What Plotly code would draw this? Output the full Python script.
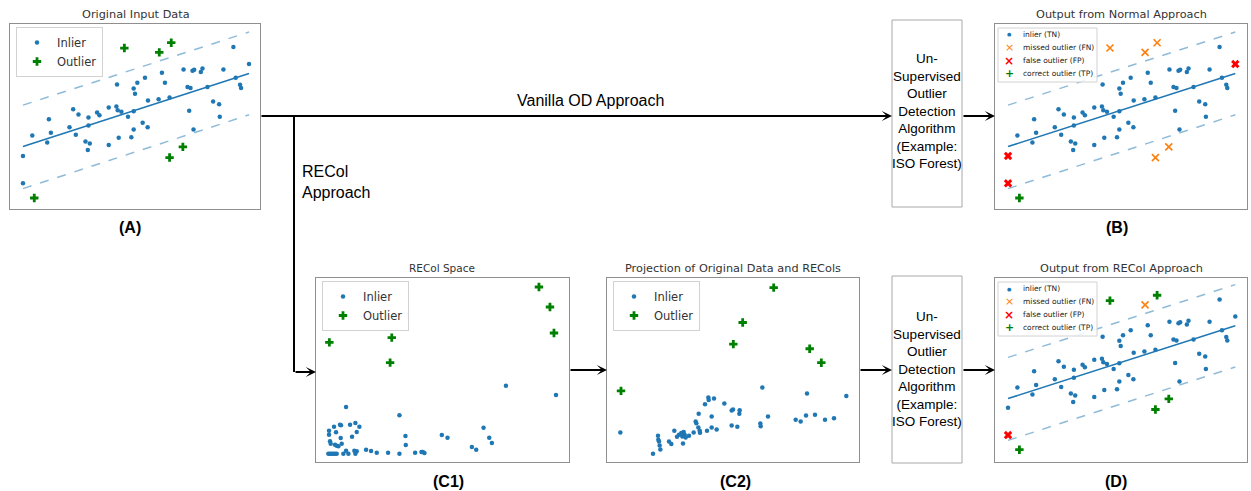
import plotly.graph_objects as go

W, H = 1251, 491


def px(x):
    return x / W


def py(y):
    return 1 - y / H


# ---------------- data: original input (panels A, B, D) ----------------
inlier_x = [6.7, 6.7, 9.5, 14.0, 14.5, 15.1, 20.7, 21.8, 22.6, 23.4, 25.5, 26.2, 26.4, 26.4, 26.8,
            29.0, 29.7, 32.5, 32.5, 34.8, 35.0, 35.2, 35.5, 36.3, 38.3, 39.3, 40.0, 40.0, 40.0, 40.4,
            41.1, 42.7, 43.4, 44.2, 44.3, 47.5, 48.5, 49.4, 50.8, 55.0, 56.2, 56.7, 57.1, 57.7, 58.0,
            58.2, 60.2, 60.7, 62.2, 63.9, 65.7, 65.9, 67.0, 70.0, 70.7, 72.0, 72.3, 74.7]
inlier_y = [16.3, 8.1, 22.4, 20.3, 27.3, 23.2, 24.9, 30.3, 22.6, 28.7, 20.6, 18.1, 27.8, 25.4, 20.0,
            29.3, 28.5, 30.8, 19.6, 31.1, 37.7, 30.0, 21.7, 29.5, 28.0, 21.9, 36.5, 29.7, 24.2, 34.9,
            38.2, 26.2, 39.7, 24.9, 32.9, 33.3, 41.2, 38.2, 33.8, 42.2, 36.9, 29.8, 36.6, 41.8, 24.2,
            42.1, 41.4, 42.5, 36.9, 32.6, 31.8, 28.0, 42.2, 48.9, 39.7, 37.6, 36.6, 43.8]
outlier_x = [37.2, 47.7, 51.3, 54.8, 50.8, 10.1]
outlier_y = [48.6, 47.3, 50.2, 19.0, 15.8, 3.7]

fit_x = [6.7, 74.7]
fit_y = [19.1, 41.0]
band_hi_y = [31.5, 53.4]
band_lo_y = [6.5, 28.6]

# predictions (indices of inliers wrongly flagged, status of each true outlier)
normal_false_outliers = [0, 1, 57]
normal_outlier_status = ["FN", "FN", "FN", "FN", "FN", "TP"]
recol_false_outliers = [1]
recol_outlier_status = ["TP", "FN", "TP", "TP", "TP", "TP"]

# ---------------- data: RECol space (C1) ----------------
c1_inlier_x = [5.7, 5.7, 6.0, 6.2, 5.5, 6.0, 6.5, 7.0, 7.5, 8.0, 7.2, 7.8, 7.5, 8.0, 8.5, 9.0, 9.2,
               9.5, 9.3, 10.0, 10.8, 10.8, 11.5, 12.0, 12.6, 13.3, 13.6, 13.6, 14.0, 14.8, 14.0, 16.8,
               18.3, 20.0, 23.4, 26.8, 26.8, 28.6, 28.7, 31.5, 33.4, 33.8, 34.3, 39.5, 41.2, 48.5,
               49.8, 52.0, 53.7, 54.5, 58.7, 73.7]
c1_inlier_y = [10.2, 9.0, 7.0, 6.3, 3.3, 3.3, 3.3, 3.3, 3.3, 3.3, 11.4, 9.7, 6.0, 5.7, 5.5, 12.0, 8.0,
               6.3, 11.8, 3.3, 17.3, 4.2, 3.3, 12.0, 8.4, 4.2, 12.5, 3.3, 9.8, 11.4, 4.0, 4.5,
               4.1, 3.6, 3.6, 14.8, 3.3, 8.6, 5.9, 3.6, 3.8, 3.8, 3.5, 8.9, 8.1, 5.3,
               4.5, 11.1, 8.1, 6.5, 23.7, 20.9]
c1_outlier_x = [5.8, 24.5, 24.0, 68.6, 71.9, 73.1]
c1_outlier_y = [36.7, 38.1, 30.6, 53.3, 47.3, 39.5]

# ---------------- data: projection of original data and RECols (C2) ----------------
c2_inlier_x = [6.2, 16.0, 17.5, 17.6, 17.8, 18.0, 18.2, 20.8, 21.5, 22.4, 23.2, 23.8, 24.5, 24.8,
               25.0, 25.2, 25.5, 25.8, 26.8, 28.2, 28.8, 29.0, 29.7, 29.6, 30.0, 30.1, 31.6, 32.2,
               32.6, 32.7, 33.6, 33.6, 34.3, 35.1, 37.4, 39.6, 40.0, 39.6, 41.3, 42.0, 41.9, 48.8,
               48.2, 48.3, 50.5, 58.8, 60.3, 62.2, 61.9, 64.6, 67.6, 70.3, 74.0]
c2_inlier_y = [9.7, 3.3, 8.7, 7.5, 7.0, 5.8, 4.6, 7.0, 6.2, 10.2, 8.4, 9.0, 9.5, 8.5,
               6.4, 9.8, 9.0, 8.2, 8.7, 9.7, 13.0, 12.5, 15.3, 11.2, 10.2, 9.6, 18.2, 10.2,
               20.2, 19.5, 14.5, 11.2, 19.9, 10.6, 18.4, 16.3, 16.6, 11.8, 11.4, 16.4, 15.3, 23.2,
               12.4, 11.6, 14.5, 13.5, 13.0, 21.4, 14.8, 15.0, 13.5, 14.0, 20.7]
c2_outlier_x = [6.4, 40.1, 42.9, 52.2, 63.0, 66.5]
c2_outlier_y = [22.2, 36.3, 42.8, 53.3, 34.9, 30.7]

legend_labels = ["inlier (TN)", "missed outlier (FN)", "false outlier (FP)", "correct outlier (TP)"]

# ---------------- styles ----------------
BLUE = "#1f77b4"
BAND = "rgba(31,119,180,0.5)"
GREEN = "#008000"
ORANGE = "#ff7f0e"
RED = "#ff0000"
FRAME = "#8f8f8f"
MPL_FONT = "DejaVu Sans"
DIA_FONT = "Liberation Sans"

IN_MARK = dict(color=BLUE, size=4.5, symbol="circle")
OUT_MARK = dict(color=GREEN, size=7, symbol="cross")
FN_MARK = dict(color=ORANGE, size=7, symbol="x-thin-open", line=dict(color=ORANGE, width=1.6))
FP_MARK = dict(color=RED, size=7.5, symbol="x")

fig = go.Figure()


def add_fit(xa, ya):
    fig.add_trace(go.Scatter(x=fit_x, y=fit_y, mode="lines", line=dict(color=BLUE, width=1.5),
                             xaxis=xa, yaxis=ya, showlegend=False, hoverinfo="skip"))
    for yy in (band_hi_y, band_lo_y):
        fig.add_trace(go.Scatter(x=fit_x, y=yy, mode="lines",
                                 line=dict(color=BAND, width=1.5, dash="dash"),
                                 xaxis=xa, yaxis=ya, showlegend=False, hoverinfo="skip"))


# Panel A
add_fit("x", "y")
fig.add_trace(go.Scatter(x=inlier_x, y=inlier_y, mode="markers", marker=IN_MARK, name="Inlier",
                         xaxis="x", yaxis="y", legend="legend"))
fig.add_trace(go.Scatter(x=outlier_x, y=outlier_y, mode="markers", marker=OUT_MARK, name="Outlier",
                         xaxis="x", yaxis="y", legend="legend"))


def add_prediction_panel(xa, ya, false_idx, out_status):
    add_fit(xa, ya)
    tn_x = [x for i, x in enumerate(inlier_x) if i not in false_idx]
    tn_y = [y for i, y in enumerate(inlier_y) if i not in false_idx]
    fp_x = [inlier_x[i] for i in false_idx]
    fp_y = [inlier_y[i] for i in false_idx]
    fn_x = [x for x, s in zip(outlier_x, out_status) if s == "FN"]
    fn_y = [y for y, s in zip(outlier_y, out_status) if s == "FN"]
    tp_x = [x for x, s in zip(outlier_x, out_status) if s == "TP"]
    tp_y = [y for y, s in zip(outlier_y, out_status) if s == "TP"]
    for xs, ys, mk, nm in ((tn_x, tn_y, IN_MARK, legend_labels[0]),
                           (fn_x, fn_y, FN_MARK, legend_labels[1]),
                           (fp_x, fp_y, FP_MARK, legend_labels[2]),
                           (tp_x, tp_y, OUT_MARK, legend_labels[3])):
        fig.add_trace(go.Scatter(x=xs, y=ys, mode="markers", marker=mk, name=nm,
                                 xaxis=xa, yaxis=ya, showlegend=False))


add_prediction_panel("x2", "y2", normal_false_outliers, normal_outlier_status)
add_prediction_panel("x5", "y5", recol_false_outliers, recol_outlier_status)

# Panel C1
fig.add_trace(go.Scatter(x=c1_inlier_x, y=c1_inlier_y, mode="markers", marker=IN_MARK, name="Inlier",
                         xaxis="x3", yaxis="y3", legend="legend2"))
fig.add_trace(go.Scatter(x=c1_outlier_x, y=c1_outlier_y, mode="markers", marker=OUT_MARK, name="Outlier",
                         xaxis="x3", yaxis="y3", legend="legend2"))
# Panel C2
fig.add_trace(go.Scatter(x=c2_inlier_x, y=c2_inlier_y, mode="markers", marker=IN_MARK, name="Inlier",
                         xaxis="x4", yaxis="y4", legend="legend3"))
fig.add_trace(go.Scatter(x=c2_outlier_x, y=c2_outlier_y, mode="markers", marker=OUT_MARK, name="Outlier",
                         xaxis="x4", yaxis="y4", legend="legend3"))


def axis(x0, x1, rng, anchor, horizontal=True):
    dom = [px(x0), px(x1)] if horizontal else [py(x1), py(x0)]
    return dict(domain=dom, range=rng, anchor=anchor, showgrid=False, zeroline=False,
                showticklabels=False, ticks="", showline=True, mirror=True,
                linecolor=FRAME, linewidth=1.4, fixedrange=True)


TOP = (24, 209)
BOT = (278, 462)
layout_axes = dict(
    xaxis=axis(10, 260, [2.8, 78.0], "y"),
    yaxis=axis(TOP[0], TOP[1], [0.4, 55.8], "x", False),
    xaxis2=axis(995, 1247, [2.8, 78.2], "y2"),
    yaxis2=axis(TOP[0], TOP[1], [0.4, 55.8], "x2", False),
    xaxis3=axis(316, 569, [1.8, 77.6], "y3"),
    yaxis3=axis(BOT[0], BOT[1], [0.8, 56.0], "x3", False),
    xaxis4=axis(607, 859, [2.2, 77.8], "y4"),
    yaxis4=axis(BOT[0], BOT[1], [0.8, 56.2], "x4", False),
    xaxis5=axis(995, 1247, [2.8, 78.2], "y5"),
    yaxis5=axis(BOT[0], BOT[1], [0.0, 55.4], "x5", False),
)


def leg(x, y):
    return dict(x=px(x), y=py(y), xanchor="left", yanchor="top",
                bgcolor="rgba(255,255,255,0.85)", bordercolor="#d2d2d2", borderwidth=1,
                font=dict(family=MPL_FONT, size=11.5, color="#333"), traceorder="normal",
                itemwidth=30)


annotations = []


def text(x, y, s, size, family=MPL_FONT, color="#333", bold=False, xanchor="center", align="center"):
    annotations.append(dict(x=px(x), y=py(y), xref="paper", yref="paper", showarrow=False,
                            text=f"<b>{s}</b>" if bold else s, xanchor=xanchor, yanchor="middle",
                            align=align, font=dict(family=family, size=size, color=color)))


# titles
text(136, 14.5, "Original Input Data", 11.3)
text(1121, 14.5, "Output from Normal Approach", 11.3)
text(442, 268, "RECol Space", 10.5)
text(733, 268, "Projection of Original Data and RECols", 11.3)
text(1121, 268, "Output from RECol Approach", 11.3)

# panel labels
for lx, ly, lab in ((130, 227, "(A)"), (1117, 227, "(B)"), (448, 481, "(C1)"),
                    (735, 481, "(C2)"), (1116, 481, "(D)")):
    text(lx, ly, lab, 16, DIA_FONT, "#000", bold=True)

# flow texts
text(590, 100, "Vanilla OD Approach", 16, DIA_FONT, "#000")
text(300, 182, "RECol<br>Approach", 16, DIA_FONT, "#000", xanchor="left", align="left")
box_txt = "Un-<br>Supervised<br>Outlier<br>Detection<br>Algorithm<br>(Example:<br>ISO Forest)"
text(927, 111, box_txt, 13.5, DIA_FONT, "#000")
text(927, 369, box_txt, 13.5, DIA_FONT, "#000")

# legends of prediction panels (B and D)
glyphs = [("●", BLUE, 5, False), ("×", ORANGE, 11, False), ("×", RED, 12, True), ("+", GREEN, 11, True)]
shapes = []
for top in (28, 282):
    shapes.append(dict(type="rect", xref="paper", yref="paper", x0=px(998), x1=px(1097),
                       y0=py(top + 54), y1=py(top), fillcolor="rgba(255,255,255,0.85)",
                       line=dict(color="#d2d2d2", width=1), layer="above"))
    for k, (lab, (g, col, sz, b)) in enumerate(zip(legend_labels, glyphs)):
        yy = top + 6.5 + 13 * k
        text(1009, yy, g, sz, MPL_FONT, col, bold=b)
        text(1021, yy, lab, 7.5, MPL_FONT, "#222", xanchor="left", align="left")

# diagram boxes
for y0, y1 in ((20, 207), (276, 463)):
    shapes.append(dict(type="rect", xref="paper", yref="paper", x0=px(892), x1=px(962),
                       y0=py(y1), y1=py(y0), line=dict(color="#a8a8a8", width=1),
                       fillcolor="rgba(0,0,0,0)"))
# vertical connector line
shapes.append(dict(type="line", xref="paper", yref="paper", x0=px(294), x1=px(294),
                   y0=py(115.5), y1=py(372), line=dict(color="#000", width=2)))


def arrow(x0, x1, y):
    annotations.append(dict(x=px(x1), y=py(y), xref="paper", yref="paper", ax=-(x1 - x0), ay=0,
                            axref="pixel", ayref="pixel", text="", showarrow=True,
                            arrowhead=3, arrowsize=0.85, arrowwidth=2, arrowcolor="#000",
                            standoff=0, startstandoff=0))


arrow(260, 892, 116)
arrow(962, 995, 116)
arrow(294, 316, 372)
arrow(569, 607, 370)
arrow(859, 892, 370)
arrow(962, 995, 370)

fig.update_layout(
    width=W, height=H, autosize=False,
    margin=dict(l=0, r=0, t=0, b=0),
    paper_bgcolor="white", plot_bgcolor="white",
    showlegend=True,
    legend=leg(16, 27), legend2=leg(322, 281), legend3=leg(613, 281),
    annotations=annotations, shapes=shapes,
    **layout_axes,
)

fig.write_html("out.html", config={"displayModeBar": False, "staticPlot": True},
               post_script="document.body.style.margin='0';document.body.style.overflow='hidden';")
